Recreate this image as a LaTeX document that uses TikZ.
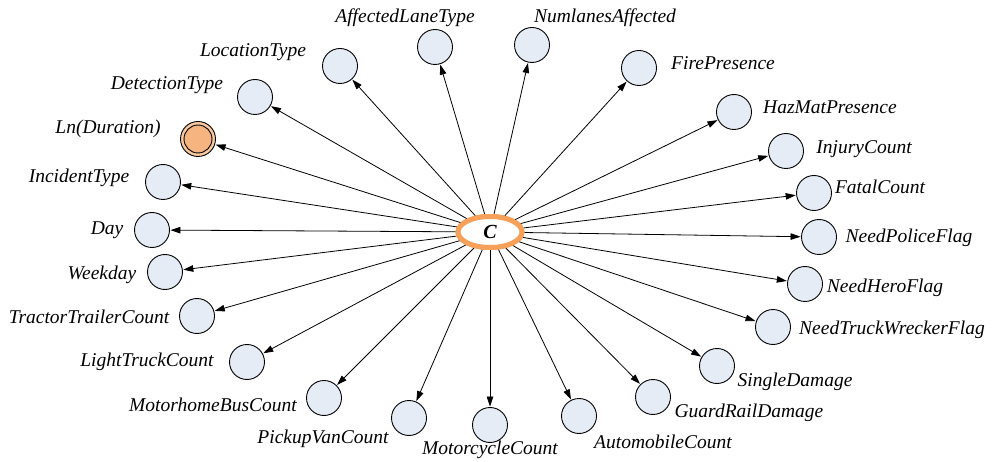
\documentclass[tikz,border=0pt]{standalone}
\usepackage{fontspec}
\setmainfont{Liberation Serif}
\usetikzlibrary{arrows.meta,shapes.geometric}
\definecolor{nodefill}{RGB}{230,236,246}
\definecolor{cring}{RGB}{246,160,90}
\definecolor{lnouter}{RGB}{249,202,160}
\definecolor{lninner}{RGB}{245,180,128}
\tikzset{
  var/.style={circle,draw=black,line width=0.9pt,fill=nodefill,minimum size=35pt,inner sep=0pt},
  lab/.style={font=\fontsize{19.5}{21}\selectfont\itshape,inner sep=0pt},
  edge/.style={draw=black,line width=0.8pt,-{Triangle[length=10pt,width=6.5pt]},shorten >=0.5pt},
  cnode/.style={ellipse,draw=cring,line width=5pt,fill=white,minimum width=64pt,minimum height=31pt,inner sep=0pt},
}
\begin{document}
\begin{tikzpicture}[x=1pt,y=-1pt]
\useasboundingbox (0,0) rectangle (993,462);
% center
\node[cnode] (C) at (490,232) {\fontsize{20}{22}\selectfont\bfseries\itshape C};
% nodes
\node[var] (alt) at (435,47) {};
\node[var] (loc) at (340,66) {};
\node[var] (det) at (255,97) {};
\node[circle,draw=black,line width=0.9pt,fill=lnouter,minimum size=35pt,inner sep=0pt] (ln) at (198,139) {};
\node[circle,draw=black,line width=0.9pt,fill=lninner,minimum size=28pt,inner sep=0pt] (lnin) at (ln.center) {};
\node[var] (inc) at (163,182) {};
\node[var] (day) at (152,230) {};
\node[var] (wkd) at (165,272) {};
\node[var] (ttc) at (197,316) {};
\node[var] (ltc) at (247,362) {};
\node[var] (mbc) at (324,398) {};
\node[var] (pvc) at (409,418) {};
\node[var] (mcc) at (490,425) {};
\node[var] (auc) at (579,416) {};
\node[var] (grd) at (653,397) {};
\node[var] (sgd) at (717,366) {};
\node[var] (ntw) at (773,327) {};
\node[var] (nhf) at (805,284) {};
\node[var] (npf) at (819,237) {};
\node[var] (fat) at (814,193) {};
\node[var] (inj) at (786,151) {};
\node[var] (haz) at (734,112) {};
\node[var] (fir) at (639,68) {};
\node[var] (nla) at (532,45) {};
% labels
\node[lab] (altL) at (405,18) {AffectedLaneType};
\node[lab] (locL) at (253,52) {LocationType};
\node[lab] (detL) at (167,85) {DetectionType};
\node[lab] (lnL) at (108,129) {Ln(Duration)};
\node[lab] (incL) at (79,178) {IncidentType};
\node[lab] (dayL) at (107,230) {Day};
\node[lab] (wkdL) at (102,275) {Weekday};
\node[lab] (ttcL) at (89,317) {TractorTrailerCount};
\node[lab] (ltcL) at (147,362) {LightTruckCount};
\node[lab] (mbcL) at (213,405) {MotorhomeBusCount};
\node[lab] (pvcL) at (323,439) {PickupVanCount};
\node[lab] (mccL) at (490,450) {MotorcycleCount};
\node[lab] (aucL) at (663,442) {AutomobileCount};
\node[lab] (grdL) at (749,413) {GuardRailDamage};
\node[lab] (sgdL) at (795,382) {SingleDamage};
\node[lab] (ntwL) at (892,330) {NeedTruckWreckerFlag};
\node[lab] (nhfL) at (885,288) {NeedHeroFlag};
\node[lab] (npfL) at (909,238) {NeedPoliceFlag};
\node[lab] (fatL) at (880,187) {FatalCount};
\node[lab] (injL) at (864,149) {InjuryCount};
\node[lab] (hazL) at (830,107) {HazMatPresence};
\node[lab] (firL) at (723,63) {FirePresence};
\node[lab] (nlaL) at (605,18) {NumlanesAffected};
% edges
\foreach \t in {alt,loc,det,ln,inc,day,wkd,ttc,ltc,mbc,pvc,mcc,auc,grd,sgd,ntw,nhf,npf,fat,inj,haz,fir,nla}
  \draw[edge] (C) -- (\t);
\node[cnode] at (C.center) {\fontsize{20}{22}\selectfont\bfseries\itshape C};
\end{tikzpicture}
\end{document}
